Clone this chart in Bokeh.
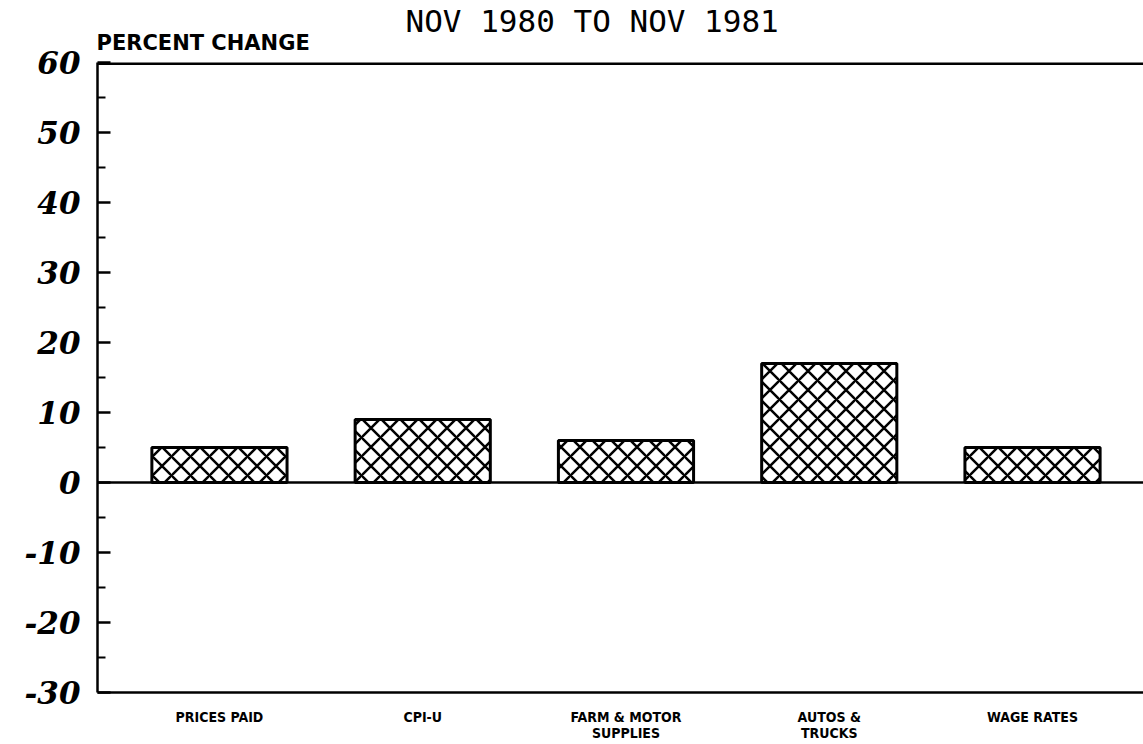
from bokeh.plotting import figure
from bokeh.models import Range1d, FixedTicker, LinearAxis, Span, Title
from bokeh.embed import file_html
from bokeh.resources import INLINE

categories = ["PRICES PAID", "CPI-U", "FARM & MOTOR\nSUPPLIES", "AUTOS &\nTRUCKS", "WAGE RATES"]
values = [5, 9, 6, 17, 5]
y_ticks = [-30, -20, -10, 0, 10, 20, 30, 40, 50, 60]
y_minor = [-25, -15, -5, 5, 15, 25, 35, 45, 55]
title_text = "NOV 1980 TO NOV 1981"
ylabel_text = "PERCENT CHANGE"

xs = list(range(len(categories)))

p = figure(width=1143, height=744, output_backend="svg", toolbar_location=None,
           x_range=Range1d(-0.6, 4.546), y_range=Range1d(-30, 60),
           min_border_left=97, min_border_right=0, min_border_top=62, min_border_bottom=52,
           x_axis_location=None, y_axis_location=None)
p.outline_line_color = None
p.grid.visible = False
p.background_fill_color = "white"
p.border_fill_color = "white"

# left axis
ya = LinearAxis(ticker=FixedTicker(ticks=y_ticks, minor_ticks=y_minor))
ya.axis_line_width = 2.5
ya.axis_line_color = "black"
ya.major_tick_in = 13
ya.major_tick_out = 0
ya.minor_tick_in = 8
ya.minor_tick_out = 0
ya.major_tick_line_width = 2.5
ya.minor_tick_line_width = 2
ya.major_tick_line_color = "black"
ya.minor_tick_line_color = "black"
ya.major_label_text_font = "DejaVu Serif"
ya.major_label_text_font_style = "bold italic"
ya.major_label_text_font_size = "31px"
ya.major_label_text_color = "black"
ya.major_label_standoff = 17
ya.major_label_overrides = {t: str(t) for t in y_ticks}
p.add_layout(ya, "left")

# bottom axis
xa = LinearAxis(ticker=FixedTicker(ticks=xs))
xa.axis_line_width = 2.5
xa.axis_line_color = "black"
xa.major_tick_in = 0
xa.major_tick_out = 0
xa.minor_tick_line_color = None
xa.major_label_overrides = {i: c for i, c in enumerate(categories)}
xa.major_label_text_font = "'Liberation Sans Narrow', 'DejaVu Sans Condensed', 'Roboto Condensed', sans-serif"
xa.major_label_text_font_style = "bold"
xa.major_label_text_font_size = "14px"
xa.major_label_text_color = "black"
xa.major_label_text_line_height = 1.0
xa.major_label_standoff = 16
p.add_layout(xa, "below")

p.add_layout(Title(text=ylabel_text, align="left", offset=-1, standoff=16,
                   text_font="DejaVu Sans", text_font_style="bold",
                   text_font_size="21px", text_color="black"), "above")
p.add_layout(Title(text=title_text, align="left", offset=308, standoff=-36,
                   text_font="DejaVu Sans Mono", text_font_style="normal",
                   text_font_size="31px", text_color="black"), "above")

# top frame line and zero line
p.add_layout(Span(location=60, dimension="width", line_color="black", line_width=5))
p.add_layout(Span(location=0, dimension="width", line_color="black", line_width=2.5))

p.vbar(x=xs, top=values, bottom=0, width=0.665,
       fill_color="white", line_color="black", line_width=3,
       hatch_pattern="x", hatch_color="black", hatch_scale=19, hatch_weight=2.5)

open("out.html", "w").write(file_html(p, INLINE))
